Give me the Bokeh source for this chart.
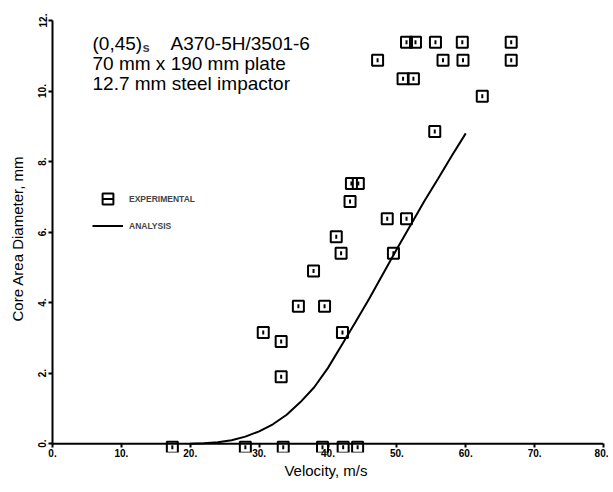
import math
from bokeh.plotting import figure
from bokeh.models import (Range1d, FixedTicker, Label, Legend, LegendItem, ColumnDataSource, Span)
from bokeh.embed import file_html
from bokeh.resources import INLINE

# ---- data ----
exp_velocity = [17.4, 28.0, 33.5, 39.2, 42.2, 44.3,
                30.6, 33.2, 33.2, 35.7, 39.5, 37.9, 42.1, 41.9, 49.5,
                41.2, 43.2, 48.6, 51.4, 43.4, 44.4, 55.5, 62.4,
                47.2, 50.9, 52.4, 56.7, 59.6, 66.6,
                51.4, 52.7, 55.6, 59.5, 66.6]
exp_diameter = [-0.1, -0.1, -0.1, -0.1, -0.1, -0.1,
                3.15, 2.9, 1.9, 3.9, 3.9, 4.9, 3.15, 5.4, 5.4,
                5.87, 6.87, 6.38, 6.38, 7.38, 7.38, 8.85, 9.85,
                10.87, 10.35, 10.35, 10.87, 10.87, 10.87,
                11.38, 11.38, 11.38, 11.38, 11.38]
ana_velocity = [20, 22, 24, 26, 28, 30, 32, 34, 36, 38, 40, 42, 44, 46, 48, 50, 52, 54, 56, 58, 60]
ana_diameter = [0.0, 0.01, 0.04, 0.1, 0.2, 0.35, 0.55, 0.82, 1.18, 1.6, 2.15, 2.8, 3.45,
                4.12, 4.82, 5.52, 6.2, 6.88, 7.52, 8.17, 8.8]
x_ticks = [0, 10, 20, 30, 40, 50, 60, 70, 80]
x_tick_labels = ["0.", "10.", "20.", "30.", "40.", "50.", "60.", "70.", "80."]
y_ticks = [0, 2, 4, 6, 8, 10, 12]
y_tick_labels = ["0.", "2.", "4.", "6.", "8.", "10.", "12."]

FONT = "Liberation Sans"

p = figure(width=608, height=490, output_backend="svg", toolbar_location=None,
           x_range=Range1d(0, 80), y_range=Range1d(-0.25, 12),
           min_border_left=52, min_border_right=5, min_border_top=20, min_border_bottom=38)
p.outline_line_color = None
p.grid.grid_line_color = None
p.background_fill_color = "white"

# axes
for ax in (p.xaxis[0], p.yaxis[0]):
    ax.axis_line_width = 2
    ax.axis_line_color = "black"
    ax.major_tick_line_width = 2
    ax.minor_tick_line_color = None
    ax.major_label_text_font = FONT
    ax.major_label_text_font_style = "bold"
    ax.major_label_text_font_size = "10px"
    ax.major_label_text_color = "black"
    ax.axis_label_text_font = FONT
    ax.axis_label_text_font_style = "normal"
    ax.axis_label_text_font_size = "15px"
    ax.axis_label_text_color = "black"

p.xaxis.ticker = FixedTicker(ticks=x_ticks)
p.xaxis.major_label_overrides = {t: l for t, l in zip(x_ticks, x_tick_labels)}
p.xaxis.axis_line_color = None
p.xaxis.major_tick_in = 9
p.xaxis.major_tick_out = -5
p.xaxis.major_label_standoff = -4
p.xaxis.axis_label = "Velocity,  m/s"
p.xaxis.axis_label_standoff = 2

p.yaxis.ticker = FixedTicker(ticks=y_ticks)
p.yaxis.major_label_overrides = {t: l for t, l in zip(y_ticks, y_tick_labels)}
p.yaxis.major_label_orientation = "vertical"
p.yaxis.bounds = (0, 12)
p.yaxis.major_tick_in = 0
p.yaxis.major_tick_out = 4
p.yaxis.major_label_standoff = 2
p.yaxis.axis_label = "Core Area Diameter,  mm"
p.yaxis.axis_label_standoff = 10

# x axis line at zero
p.add_layout(Span(location=0, dimension="width", line_color="black", line_width=2))

# data
src = ColumnDataSource(dict(x=exp_velocity, y=exp_diameter))
sq = p.scatter("x", "y", source=src, marker="square", size=11, line_width=2,
               line_color="black", fill_alpha=0)
tick = p.scatter("x", "y", source=src, marker="dash", angle=math.pi / 2, size=4,
                 line_width=2, line_color="black")
ln = p.line(ana_velocity, ana_diameter, line_color="black", line_width=2)

legend = Legend(items=[LegendItem(label="EXPERIMENTAL", renderers=[sq, tick]),
                       LegendItem(label="ANALYSIS", renderers=[ln])],
                location=(40, 213), padding=0, margin=0, spacing=0,
                glyph_width=31, glyph_height=27, label_standoff=6,
                label_text_font=FONT, label_text_font_style="bold",
                label_text_font_size="8.5px", label_height=27,
                border_line_color=None, background_fill_alpha=0)
p.add_layout(legend, "center")

# annotation text
common = dict(text_font=FONT, text_font_size="19px", text_color="black", text_baseline="alphabetic")
p.add_layout(Label(x=5.81, y=11.36, text="(0,45)", **common))
p.add_layout(Label(x=13.07, y=11.23, text="s", text_font=FONT, text_font_size="13px",
                   text_font_style="bold", text_baseline="alphabetic"))
p.add_layout(Label(x=17.13, y=11.36, text="A370-5H/3501-6", **common))
p.add_layout(Label(x=5.81, y=10.78, text="70 mm  x  190 mm plate", **common))
p.add_layout(Label(x=5.81, y=10.21, text="12.7 mm  steel  impactor", **common))

open("out.html", "w").write(file_html(p, INLINE))
